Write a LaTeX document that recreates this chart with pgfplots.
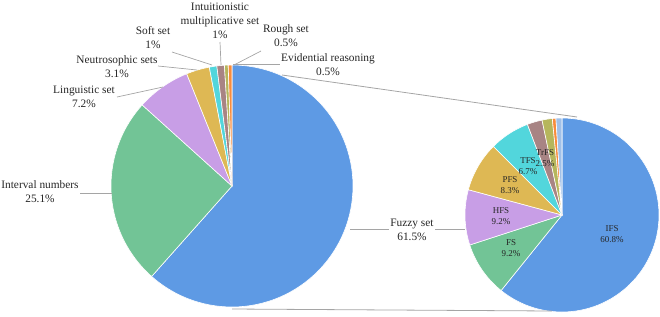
\documentclass[border=0pt]{standalone}
\usepackage{pgfplots}
\pgfplotsset{compat=1.18}
\usepackage{pgfplotstable}
\usepackage{fontspec}
\setmainfont{Liberation Serif}

\definecolor{cBlue}{RGB}{94,154,228}
\definecolor{cGreen}{RGB}{114,196,150}
\definecolor{cPurple}{RGB}{200,158,230}
\definecolor{cGold}{RGB}{222,184,84}
\definecolor{cCyan}{RGB}{82,214,220}
\definecolor{cBrown}{RGB}{168,132,132}
\definecolor{cOlive}{RGB}{182,182,92}
\definecolor{cOrange}{RGB}{248,140,60}
\definecolor{cLight}{RGB}{160,192,232}
\definecolor{cLine}{RGB}{165,165,165}

\tikzset{
  lbl/.style={font=\fontsize{11.4}{14}\selectfont, align=center, text=black!85, inner sep=1pt},
  slbl/.style={font=\fontsize{9}{11}\selectfont, align=center, text=black!85, inner sep=1pt},
  lead/.style={cLine, line width=0.7pt}}

% main pie (percent)
\pgfplotstableread{
value color
61.5 cBlue
25.1 cGreen
7.2  cPurple
3.1  cGold
1.0  cCyan
1.0  cBrown
0.5  cOlive
0.5  cOrange
}\maintab

% fuzzy set split (percent)
\pgfplotstableread{
value color
60.8 cBlue
9.2  cGreen
9.2  cPurple
8.3  cGold
6.7  cCyan
2.5  cBrown
1.7  cOlive
0.6  cOrange
1.0  cLight
}\subtab

% #1 table, #2 cx, #3 cy, #4 radius  (clockwise from 12 o'clock)
\newcommand\drawpie[4]{%
  \pgfplotstablegetrowsof{#1}%
  \pgfmathtruncatemacro\nrows{\pgfplotsretval-1}%
  \def\total{0}%
  \pgfplotsforeachungrouped \i in {0,...,\nrows}{%
    \pgfplotstablegetelem{\i}{value}\of#1%
    \pgfmathsetmacro\total{\total+\pgfplotsretval}}%
  \def\cum{0}%
  \pgfplotsforeachungrouped \i in {0,...,\nrows}{%
    \pgfplotstablegetelem{\i}{value}\of#1\let\val\pgfplotsretval
    \pgfplotstablegetelem{\i}{color}\of#1\let\col\pgfplotsretval
    \pgfmathsetmacro\ea{90-(\cum/\total)*360}%
    \pgfmathsetmacro\cum{\cum+\val}%
    \pgfmathsetmacro\eb{90-(\cum/\total)*360}%
    \edef\tmp{\noexpand\addplot[fill=\col, draw=white, line width=0.6pt,
      domain=\eb:\ea, samples=80]
      ({#2+#4*cos(x)},{#3-#4*sin(x)}) -- (axis cs:#2,#3) -- cycle;}%
    \tmp}%
}

\begin{document}
\begin{tikzpicture}
\begin{axis}[
  scale only axis, width=660bp, height=316bp,
  xmin=0, xmax=660, ymin=0, ymax=316, y dir=reverse,
  hide axis, clip=false]

\drawpie{\maintab}{232}{186}{121}
\drawpie{\subtab}{562}{215}{97}

% connectors
\draw[cLine, line width=0.8pt] (axis cs:282,75) -- (axis cs:577,117);
\draw[cLine, line width=0.8pt] (axis cs:232,309) -- (axis cs:552,311);

% leader lines
\draw[lead] (axis cs:172,52) -- (axis cs:212,65);
\draw[lead] (axis cs:220,42) -- (axis cs:221,65);
\draw[lead] (axis cs:261,51) -- (axis cs:234,65);
\draw[lead] (axis cs:158,66) -- (axis cs:197,70);
\draw[lead] (axis cs:117,97) -- (axis cs:163,87);
\draw[lead] (axis cs:233,64) -- (axis cs:280,64);
\draw[lead] (axis cs:80,193) -- (axis cs:112,193);
\draw[lead] (axis cs:350,229) -- (axis cs:465,229);

% main labels
\node[lbl] at (axis cs:220,21) {Intuitionistic\\multiplicative set\\1\%};
\node[lbl] at (axis cs:153,38) {Soft set\\1\%};
\node[lbl] at (axis cs:117,67) {Neutrosophic sets\\3.1\%};
\node[lbl] at (axis cs:84,97) {Linguistic set\\7.2\%};
\node[lbl] at (axis cs:286,36) {Rough set\\0.5\%};
\node[lbl] at (axis cs:328,65) {Evidential reasoning\\0.5\%};
\node[lbl] at (axis cs:40,192) {Interval numbers\\25.1\%};
\node[lbl, fill=white] at (axis cs:412,230) {Fuzzy set\\61.5\%};

% secondary labels
\node[slbl] at (axis cs:612,234) {IFS\\60.8\%};
\node[slbl] at (axis cs:511,248) {FS\\9.2\%};
\node[slbl] at (axis cs:501,216) {HFS\\9.2\%};
\node[slbl] at (axis cs:510,185) {PFS\\8.3\%};
\node[slbl] at (axis cs:528,166) {TFS\\6.7\%};
\node[slbl] at (axis cs:545,158) {TrFS\\2.5\%};

\coordinate (bl) at (axis cs:0,316);
\coordinate (tr) at (axis cs:660,0);
\end{axis}
\pgfresetboundingbox
\useasboundingbox (bl) rectangle (tr);
\end{tikzpicture}
\end{document}
